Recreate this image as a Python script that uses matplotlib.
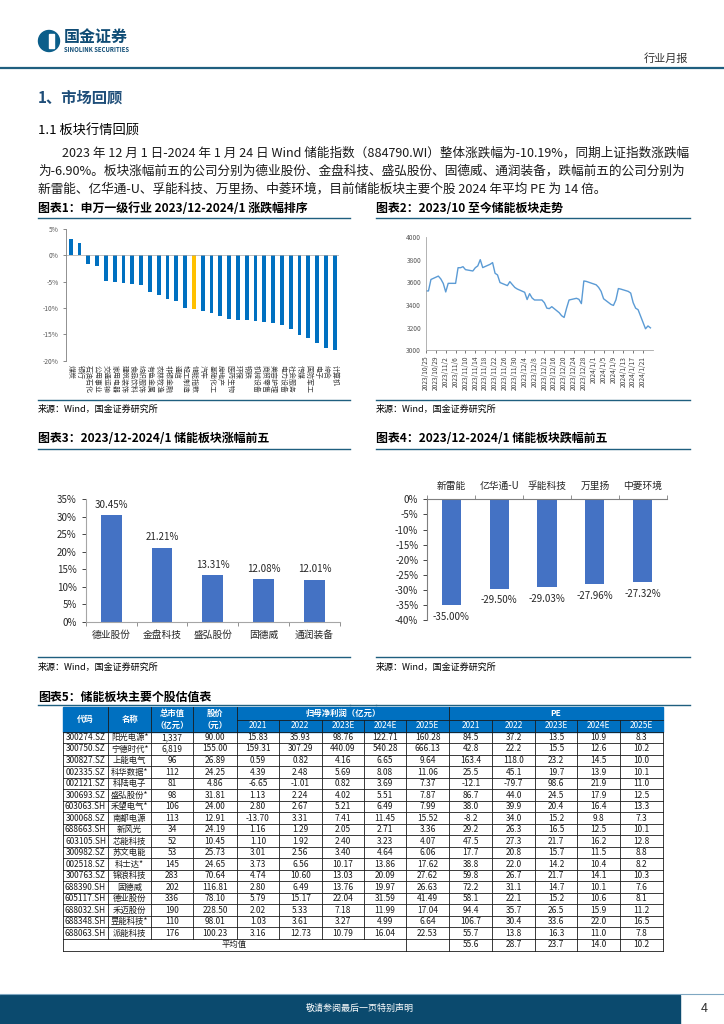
import matplotlib
matplotlib.use("Agg")
import matplotlib.pyplot as plt
from matplotlib.patches import Rectangle, Circle
import numpy as np
import pandas as pd

plt.rcParams["font.family"] = ["Noto Sans CJK SC", "DejaVu Sans"]
plt.rcParams["axes.unicode_minus"] = False

W, H = 724, 1024
NAVY = "#1F5F7F"

# ---- chart 1: SW level-1 industries, 2023/12-2024/1 change (%)
industries = ["煤炭", "银行", "石油石化", "公用事业", "交通运输", "家用电器", "建筑装饰",
              "食品饮料", "纺织服饰", "有色金属", "农林牧渔", "非银金融", "通信", "轻工制造",
              "储能指数", "汽车", "基础化工", "房地产", "医药生物", "环保", "钢铁", "机械设备",
              "商贸零售", "美容护理", "电力设备", "社会服务", "传媒", "国防军工", "电子",
              "综合", "计算机"]
industry_change = [3.1, 2.4, -1.7, -2.0, -4.9, -5.1, -5.3, -5.5, -5.6, -6.9, -7.6, -8.2,
                   -8.6, -10.0, -10.19, -10.5, -10.9, -11.6, -12.1, -12.2, -12.3, -12.4,
                   -12.6, -12.9, -13.2, -13.9, -15.2, -15.7, -16.6, -17.5, -18.0]
highlight = "储能指数"

# ---- chart 2: storage index since 2023/10
trade_dates = [d for d in pd.bdate_range("2023-10-25", "2024-01-24") if d != pd.Timestamp("2024-01-01")]
index_values = [3524, 3524, 3625, 3655, 3630, 3590, 3515, 3591, 3591, 3729, 3729, 3738, 3712,
                3700, 3729, 3745, 3800, 3730, 3759, 3774, 3680, 3665, 3598, 3571, 3606, 3580,
                3555, 3541, 3512, 3448, 3500, 3462, 3444, 3444, 3420, 3372, 3368, 3385, 3332,
                3305, 3290, 3372, 3444, 3459, 3450, 3412, 3612, 3608, 3578, 3555, 3520, 3455,
                3405, 3396, 3445, 3545, 3540, 3520, 3505, 3420, 3372, 3358, 3190, 3215, 3198]

# ---- chart 3 / 4: top gainers and losers
gainers = ["德业股份", "金盘科技", "盛弘股份", "固德威", "通润装备"]
gain_pct = [30.45, 21.21, 13.31, 12.08, 12.01]
losers = ["新雷能", "亿华通-U", "孚能科技", "万里扬", "中菱环境"]
loss_pct = [-35.00, -29.50, -29.03, -27.96, -27.32]

# ---- table
codes = ["300274.SZ", "300750.SZ", "300827.SZ", "002335.SZ", "002121.SZ", "300693.SZ",
         "603063.SH", "300068.SZ", "688663.SH", "603105.SH", "300982.SZ", "002518.SZ",
         "300763.SZ", "688390.SH", "605117.SH", "688032.SH", "688348.SH", "688063.SH"]
names = ["阳光电源*", "宁德时代*", "上能电气", "科华数据*", "科陆电子", "盛弘股份*", "禾望电气*",
         "南都电源", "新风光", "芯能科技", "苏文电能", "科士达*", "锦浪科技", "固德威",
         "德业股份", "禾迈股份", "昱能科技*", "派能科技"]
mcap = [1337, 6819, 96, 112, 81, 98, 106, 113, 34, 52, 53, 145, 283, 202, 336, 190, 110, 176]
price = [90.00, 155.00, 26.89, 24.25, 4.86, 31.81, 24.00, 12.91, 24.19, 10.45, 25.73, 24.65,
         70.64, 116.81, 78.10, 228.50, 98.01, 100.23]
np21 = [15.83, 159.31, 0.59, 4.39, -6.65, 1.13, 2.80, -13.70, 1.16, 1.10, 3.01, 3.73, 4.74, 2.80, 5.79, 2.02, 1.03, 3.16]
np22 = [35.93, 307.29, 0.82, 2.48, -1.01, 2.24, 2.67, 3.31, 1.29, 1.92, 2.56, 6.56, 10.60, 6.49, 15.17, 5.33, 3.61, 12.73]
np23 = [98.76, 440.09, 4.16, 5.69, 0.82, 4.02, 5.21, 7.41, 2.05, 2.40, 3.40, 10.17, 13.03, 13.76, 22.04, 7.18, 3.27, 10.79]
np24 = [122.71, 540.28, 6.65, 8.08, 3.69, 5.51, 6.49, 11.45, 2.71, 3.23, 4.64, 13.86, 20.09, 19.97, 31.59, 11.99, 4.99, 16.04]
np25 = [160.28, 666.13, 9.64, 11.06, 7.37, 7.87, 7.99, 15.52, 3.36, 4.07, 6.06, 17.62, 27.62, 26.63, 41.49, 17.04, 6.64, 22.53]
pe21 = [84.5, 42.8, 163.4, 25.5, -12.1, 86.7, 38.0, -8.2, 29.2, 47.5, 17.7, 38.8, 59.8, 72.2, 58.1, 94.4, 106.7, 55.7]
pe22 = [37.2, 22.2, 118.0, 45.1, -79.7, 44.0, 39.9, 34.0, 26.3, 27.3, 20.8, 22.0, 26.7, 31.1, 22.1, 35.7, 30.4, 13.8]
pe23 = [13.5, 15.5, 23.2, 19.7, 98.6, 24.5, 20.4, 15.2, 16.5, 21.7, 15.7, 14.2, 21.7, 14.7, 15.2, 26.5, 33.6, 16.3]
pe24 = [10.9, 12.6, 14.5, 13.9, 21.9, 17.9, 16.4, 9.8, 12.5, 16.2, 11.5, 10.4, 14.1, 10.1, 10.6, 15.9, 22.0, 11.0]
pe25 = [8.3, 10.2, 10.0, 10.1, 11.0, 12.5, 13.3, 7.3, 10.1, 12.8, 8.8, 8.2, 10.3, 7.6, 8.1, 11.2, 16.5, 7.8]
pe_avg = [55.6, 28.7, 23.7, 14.0, 10.2]
years = ["2021", "2022", "2023E", "2024E", "2025E"]


def rect(x0, y0, x1, y1):
    return [x0 / W, 1 - y1 / H, (x1 - x0) / W, (y1 - y0) / H]


fig = plt.figure(figsize=(W / 100, H / 100), dpi=100)
page = fig.add_axes([0, 0, 1, 1])
page.set_xlim(0, W)
page.set_ylim(H, 0)
page.axis("off")

# header
page.add_patch(Circle((49, 41), 10.5, color="#0B5E8A"))
page.add_patch(Rectangle((49, 34), 5, 14, color="white"))
page.text(64, 37, "国金证券", fontsize=11.5, fontweight="bold", color="#0F4C75", va="center")
page.text(64.5, 49.5, "SINOLINK SECURITIES", fontsize=4.3, fontweight="bold", color="#0F4C75", va="center")
page.text(688, 59, "行业月报", fontsize=8, color="#333333", va="center", ha="right")
page.plot([0, W], [68, 68], color=NAVY, lw=1.6)

page.text(38, 98, "1、市场回顾", fontsize=11, fontweight="bold", color="#1F4E79", va="center")
page.text(38, 131, "1.1 板块行情回顾", fontsize=9.5, va="center")

para = [
    (62, "2023 年 12 月 1 日-2024 年 1 月 24 日 Wind 储能指数（884790.WI）整体涨跌幅为-10.19%，同期上证指数涨跌幅", 626),
    (38, "为-6.90%。板块涨幅前五的公司分别为德业股份、金盘科技、盛弘股份、固德威、通润装备，跌幅前五的公司分别为", 650),
    (38, "新雷能、亿华通-U、孚能科技、万里扬、中菱环境，目前储能板块主要个股 2024 年平均 PE 为 14 倍。", None),
]
renderer = fig.canvas.get_renderer()
base = 9.0
size = base
for (x, s, target), y in zip(para, [153, 171, 189]):
    t = page.text(x, y, s, fontsize=base, va="center", color="#1A1A1A")
    if target:
        w = t.get_window_extent(renderer).width
        size = base * target / w
    t.set_fontsize(size)

# captions and rules
for x, y, s in [(38, 208, "图表1：申万一级行业 2023/12-2024/1 涨跌幅排序"),
                (376, 208, "图表2：2023/10 至今储能板块走势"),
                (38, 438, "图表3：2023/12-2024/1 储能板块涨幅前五"),
                (376, 438, "图表4：2023/12-2024/1 储能板块跌幅前五"),
                (38, 697, "图表5：储能板块主要个股估值表")]:
    page.text(x, y, s, fontsize=8.6, fontweight="bold", va="center")
for y in [218, 400, 449, 657, 705]:
    page.plot([38, 350], [y, y], color=NAVY, lw=1)
    page.plot([376, 690], [y, y], color=NAVY, lw=1)
page.plot([350, 376], [705, 705], color=NAVY, lw=1)
for x, y in [(38, 409), (376, 409), (38, 667), (376, 667)]:
    page.text(x, y, "来源：Wind，国金证券研究所", fontsize=6.5, va="center")

# chart 1
ax1 = fig.add_axes(rect(66.3, 229, 339.1, 360.7))
x1 = np.arange(len(industries))
colors = ["#FFC000" if n == highlight else "#0070C0" for n in industries]
ax1.bar(x1, industry_change, width=0.45, color=colors)
ax1.set_xlim(-0.5, len(industries) - 0.5)
ax1.set_ylim(-20, 5)
ax1.set_yticks(range(-20, 6, 5))
ax1.yaxis.set_major_formatter(lambda v, p: f"{v:.0f}%")
ax1.set_xticks(x1)
ax1.set_xticklabels(industries, rotation=-90, fontsize=5)
ax1.tick_params(axis="x", length=0, pad=3, colors="#404040")
ax1.tick_params(axis="y", labelsize=4.8, length=2, width=0.5, colors="#595959")
for s in ["top", "right", "bottom"]:
    ax1.spines[s].set_visible(False)
ax1.spines["left"].set_color("#7F7F7F")
ax1.spines["left"].set_linewidth(0.6)
ax1.axhline(0, color="#A6A6A6", lw=0.5)

# chart 2
ax2 = fig.add_axes(rect(426, 237, 652.9, 350.3))
d0 = trade_dates[0]
days = [(d - d0).days for d in trade_dates]
ax2.plot(days, index_values, color="#5B9BD5", lw=1)
ax2.set_xlim(0, 92)
ax2.set_ylim(3000, 4000)
ax2.set_yticks(range(3000, 4001, 200))
tick_dates = pd.date_range(d0, "2024-01-21", freq="4D")
ax2.set_xticks([(d - d0).days for d in tick_dates])
ax2.set_xticklabels([f"{d.year}/{d.month}/{d.day}" for d in tick_dates], rotation=90, fontsize=4.8)
ax2.tick_params(axis="x", length=2, width=0.5, pad=2, colors="#404040")
ax2.tick_params(axis="y", labelsize=4.8, length=0, colors="#595959")
for s in ["top", "right"]:
    ax2.spines[s].set_visible(False)
for s in ["left", "bottom"]:
    ax2.spines[s].set_color("#A6A6A6")
    ax2.spines[s].set_linewidth(0.6)

# chart 3
ax3 = fig.add_axes(rect(85.7, 499.3, 340, 621.7))
x3 = np.arange(len(gainers))
ax3.bar(x3, gain_pct, width=0.41, color="#4472C4")
for xi, v in zip(x3, gain_pct):
    ax3.annotate(f"{v:.2f}%", (xi, v), xytext=(0, 4), textcoords="offset points",
                 ha="center", va="bottom", fontsize=7, color="#262626")
ax3.set_xlim(-0.5, 4.5)
ax3.set_ylim(0, 35)
ax3.set_yticks(range(0, 36, 5))
ax3.yaxis.set_major_formatter(lambda v, p: f"{v:.0f}%")
ax3.set_xticks(x3)
ax3.set_xticklabels(gainers)
ax3.set_xticks(np.arange(-0.5, 5, 1), minor=True)
ax3.tick_params(axis="x", which="major", length=0, labelsize=7, pad=6, colors="#262626")
ax3.tick_params(axis="x", which="minor", length=3, width=0.6, color="#7F7F7F")
ax3.tick_params(axis="y", labelsize=7, length=3, width=0.6, colors="#262626")
for s in ["top", "right"]:
    ax3.spines[s].set_visible(False)
for s in ["left", "bottom"]:
    ax3.spines[s].set_color("#A6A6A6")
    ax3.spines[s].set_linewidth(0.8)

# chart 4
ax4 = fig.add_axes(rect(427.3, 499.3, 666.7, 620.3))
x4 = np.arange(len(losers))
ax4.bar(x4, loss_pct, width=0.4, color="#4472C4")
for xi, v in zip(x4, loss_pct):
    ax4.annotate(f"{v:.2f}%", (xi, v), xytext=(0, -5), textcoords="offset points",
                 ha="center", va="top", fontsize=7, color="#262626")
ax4.set_xlim(-0.5, 4.5)
ax4.set_ylim(-40, 0)
ax4.set_yticks(range(-40, 1, 5))
ax4.yaxis.set_major_formatter(lambda v, p: f"{v:.0f}%")
ax4.xaxis.tick_top()
ax4.set_xticks(x4)
ax4.set_xticklabels(losers)
ax4.set_xticks(np.arange(-0.5, 5, 1), minor=True)
ax4.tick_params(axis="x", which="major", length=0, labelsize=7, pad=6, colors="#262626")
ax4.tick_params(axis="x", which="minor", length=3, width=0.6, color="#7F7F7F", top=True, bottom=False)
ax4.tick_params(axis="y", labelsize=7, length=3, width=0.6, colors="#262626")
for s in ["bottom", "right"]:
    ax4.spines[s].set_visible(False)
for s in ["left", "top"]:
    ax4.spines[s].set_color("#7F7F7F")
    ax4.spines[s].set_linewidth(0.8)

# table
col_x = [62.7, 108.3, 151, 193.3, 236.7, 279, 321.7, 364.3, 406, 449.3, 492.3, 534.7, 577.3, 620, 662.7]
hdr_top, hdr_mid, body_top = 707.3, 720, 731.7
row_h = (939 - body_top) / len(codes)
avg_top, avg_bot = 939, 950.5
tfs = 6
page.add_patch(Rectangle((col_x[0], hdr_top), col_x[-1] - col_x[0], body_top - hdr_top,
                         color="#0070C0", zorder=1))
line_c = "#1A1A1A"
# header text
hc = dict(color="white", fontsize=tfs, ha="center", va="center", fontweight="bold", zorder=3)
page.text((col_x[0] + col_x[1]) / 2, (hdr_top + body_top) / 2, "代码", **hc)
page.text((col_x[1] + col_x[2]) / 2, (hdr_top + body_top) / 2, "名称", **hc)
page.text((col_x[2] + col_x[3]) / 2, (hdr_top + hdr_mid) / 2, "总市值", **hc)
page.text((col_x[2] + col_x[3]) / 2, (hdr_mid + body_top) / 2, "（亿元）", **hc)
page.text((col_x[3] + col_x[4]) / 2, (hdr_top + hdr_mid) / 2, "股价", **hc)
page.text((col_x[3] + col_x[4]) / 2, (hdr_mid + body_top) / 2, "（元）", **hc)
page.text((col_x[4] + col_x[9]) / 2, (hdr_top + hdr_mid) / 2, "归母净利润（亿元）", **hc)
page.text((col_x[9] + col_x[14]) / 2, (hdr_top + hdr_mid) / 2, "PE", **hc)
for k, yr in enumerate(years * 2):
    page.text((col_x[4 + k] + col_x[5 + k]) / 2, (hdr_mid + body_top) / 2, yr,
              color="white", fontsize=tfs, ha="center", va="center", zorder=3)
# header lines
page.plot([col_x[4], col_x[-1]], [hdr_mid, hdr_mid], color=line_c, lw=0.6, zorder=2)
for cx in col_x[1:5] + [col_x[9]]:
    page.plot([cx, cx], [hdr_top, body_top], color=line_c, lw=0.6, zorder=2)
for cx in col_x[5:9] + col_x[10:14]:
    page.plot([cx, cx], [hdr_mid, body_top], color=line_c, lw=0.6, zorder=2)

# body
columns = [codes, names, [f"{v:,}" for v in mcap], [f"{v:.2f}" for v in price]]
columns += [[f"{v:.2f}" for v in c] for c in [np21, np22, np23, np24, np25]]
columns += [[f"{v:.1f}" for v in c] for c in [pe21, pe22, pe23, pe24, pe25]]
for i in range(len(codes)):
    yc = body_top + (i + 0.5) * row_h
    for j, col in enumerate(columns):
        page.text((col_x[j] + col_x[j + 1]) / 2, yc, col[i], fontsize=tfs, ha="center",
                  va="center", color="#1A1A1A")
for i in range(len(codes) + 1):
    y = body_top + i * row_h
    page.plot([col_x[0], col_x[-1]], [y, y], color=line_c, lw=0.6)
for cx in col_x:
    page.plot([cx, cx], [body_top, avg_top], color=line_c, lw=0.6)
page.plot([col_x[0], col_x[-1]], [avg_bot, avg_bot], color=line_c, lw=0.6)
for cx in [col_x[0], col_x[8]] + col_x[9:]:
    page.plot([cx, cx], [avg_top, avg_bot], color=line_c, lw=0.6)
page.text((col_x[0] + col_x[8]) / 2, (avg_top + avg_bot) / 2, "平均值", fontsize=tfs,
          ha="center", va="center", color="#1A1A1A")
for k, v in enumerate(pe_avg):
    page.text((col_x[9 + k] + col_x[10 + k]) / 2, (avg_top + avg_bot) / 2, f"{v:.1f}",
              fontsize=tfs, ha="center", va="center", color="#1A1A1A")

# footer
page.plot([0, W], [993.5, 993.5], color="#7FA7C2", lw=0.8)
page.add_patch(Rectangle((0, 995), 680, 29, color="#0B4A6E"))
page.text(360, 1008, "敬请参阅最后一页特别声明", fontsize=6.5, color="white", ha="center", va="center")
page.text(704, 1008, "4", fontsize=9, color="#333333", ha="center", va="center")

fig.savefig("out.png", dpi=100)
